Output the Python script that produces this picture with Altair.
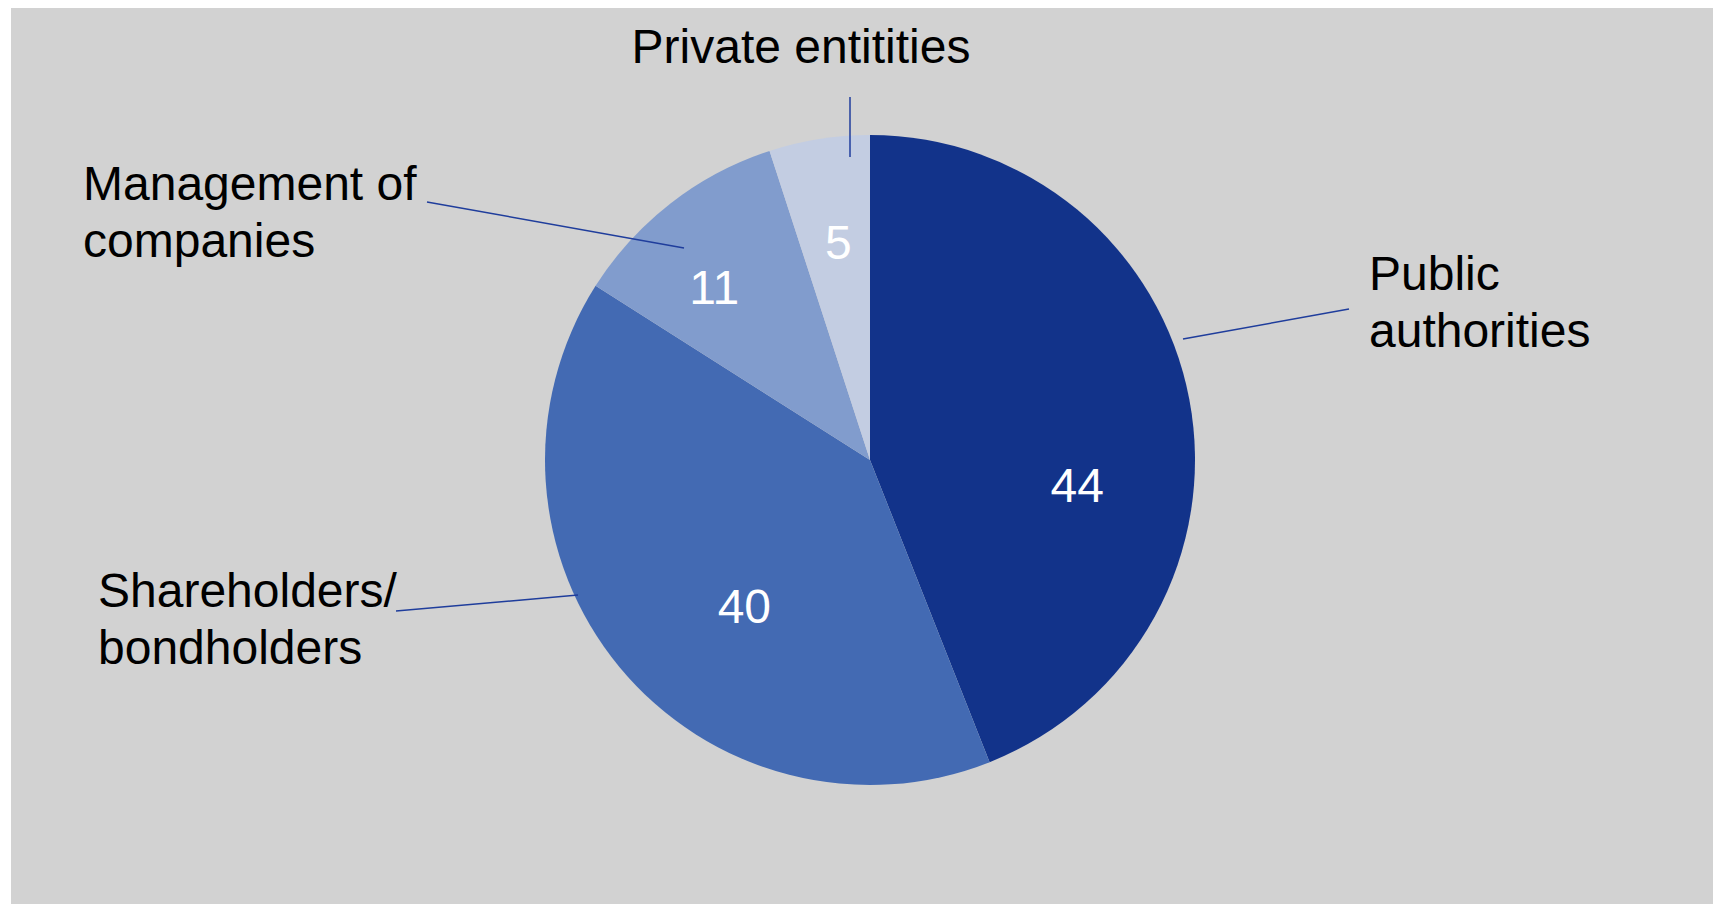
import math
import altair as alt
import pandas as pd

# ---- data ----
categories = ["Public authorities", "Shareholders/ bondholders", "Management of companies", "Private entitities"]
label_lines = ["Public\nauthorities", "Shareholders/\nbondholders", "Management of\ncompanies", "Private entitities"]
values = [44, 40, 11, 5]
colors = ["#12338A", "#436AB3", "#819CCD", "#C3CDE2"]

# ---- layout (page pixels) ----
PAGE_W, PAGE_H = 1713, 904
PAD_L, PAD_T = 11, 8
W, H = PAGE_W - PAD_L, PAGE_H - PAD_T
CX, CY, R = 870 - PAD_L, 460 - PAD_T, 325
FONT = "Liberation Sans"
FS = 48

# value-label placement: polar point at mid-angle of each slice + small nudge
VAL_R = 215
VAL_NUDGE = [(-4, 82), (40, 26), (-24, 14), (2, 11)]

# callout label anchors and leader lines (page pixels)
LABEL_POS = [(1369, 290, "left"), (98, 607, "left"), (83, 200, "left"), (801, 63, "center")]
LEADERS = [((1183, 339), (1349, 309)), ((396, 611), (578, 595)),
           ((427, 202), (684, 248)), ((850, 97), (850, 157))]

total = sum(values)
cum = 0
rows = []
for i, (c, v) in enumerate(zip(categories, values)):
    mid = (cum + v / 2) / total * 2 * math.pi
    cum += v
    vx = CX + VAL_R * math.sin(mid) + VAL_NUDGE[i][0]
    vy = CY - VAL_R * math.cos(mid) + VAL_NUDGE[i][1]
    lx, ly, al = LABEL_POS[i]
    (a, b), (c2, d) = LEADERS[i]
    rows.append(dict(category=c, value=v, idx=i, label=label_lines[i],
                     vx=vx, vy=vy, lx=lx - PAD_L, ly=ly - PAD_T, align=al,
                     x1=a - PAD_L, y1=b - PAD_T, x2=c2 - PAD_L, y2=d - PAD_T))
df = pd.DataFrame(rows)

xs = alt.Scale(domain=[0, W], range=[0, W], nice=False, zero=False)
ys = alt.Scale(domain=[0, H], range=[0, H], nice=False, zero=False)

base = alt.Chart(df)

pie = base.mark_arc(outerRadius=R, stroke=None).encode(
    theta=alt.Theta("value:Q", stack=True),
    color=alt.Color("category:N", scale=alt.Scale(domain=categories, range=colors), legend=None),
    order=alt.Order("idx:Q"),
    x=alt.value(CX),
    y=alt.value(CY),
)

vals = base.mark_text(font=FONT, fontSize=FS, color="white", align="center", baseline="alphabetic").encode(
    x=alt.X("vx:Q", scale=xs, axis=None),
    y=alt.Y("vy:Q", scale=ys, axis=None),
    text=alt.Text("value:Q"),
)

leaders = base.mark_rule(color="#1F3D9C", strokeWidth=1.5).encode(
    x=alt.X("x1:Q", scale=xs, axis=None),
    y=alt.Y("y1:Q", scale=ys, axis=None),
    x2="x2:Q",
    y2="y2:Q",
)

left_labels = base.transform_filter(alt.datum.align == "left").mark_text(
    font=FONT, fontSize=FS, color="black", align="left", baseline="alphabetic",
    lineBreak="\n", lineHeight=57,
).encode(
    x=alt.X("lx:Q", scale=xs, axis=None),
    y=alt.Y("ly:Q", scale=ys, axis=None),
    text="label:N",
)

center_labels = base.transform_filter(alt.datum.align == "center").mark_text(
    font=FONT, fontSize=FS, color="black", align="center", baseline="alphabetic",
    lineBreak="\n", lineHeight=57,
).encode(
    x=alt.X("lx:Q", scale=xs, axis=None),
    y=alt.Y("ly:Q", scale=ys, axis=None),
    text="label:N",
)

chart = alt.layer(pie, leaders, vals, left_labels, center_labels).properties(
    width=W, height=H,
    autosize=alt.AutoSizeParams(type="none"),
    padding={"left": PAD_L, "top": PAD_T, "right": 0, "bottom": 0},
    background="white",
).configure_view(fill="#D2D2D2", stroke=None)

chart.save("out.html", embed_options={"renderer": "svg", "actions": False})
